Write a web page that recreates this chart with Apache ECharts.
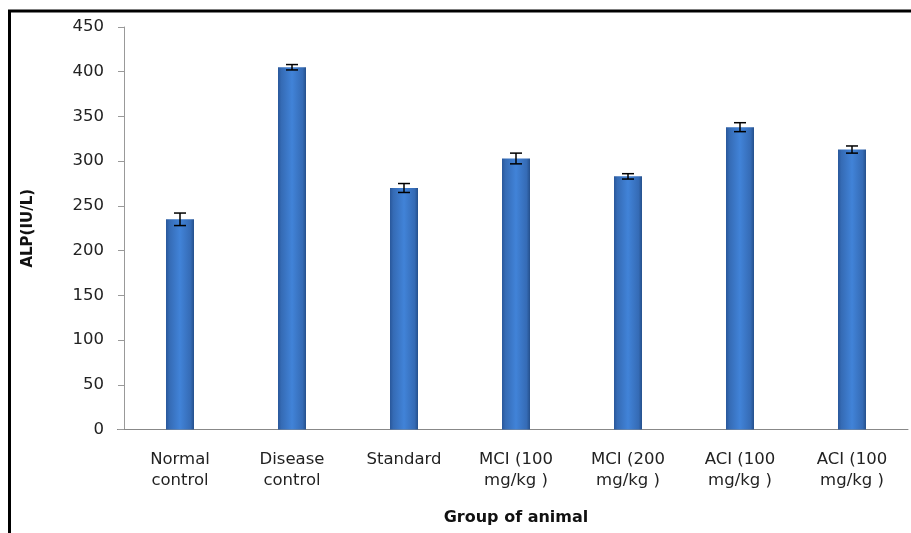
<!DOCTYPE html>
<html><head><meta charset="utf-8">
<script src="https://cdn.jsdelivr.net/npm/echarts@6/dist/echarts.min.js"></script>
<style>html,body{margin:0;padding:0;background:#fff}#c{width:911px;height:533px}</style>
</head><body><div id="c"></div>
<script>
var categories = ['Normal\ncontrol', 'Disease\ncontrol', 'Standard', 'MCI (100\nmg/kg )', 'MCI (200\nmg/kg )', 'ACI (100\nmg/kg )', 'ACI (100\nmg/kg )'];
var values = [235, 405, 270, 303, 283, 338, 313];
var errors = [7, 3, 5, 6, 3, 5, 4];
var yTicks = [0, 450, 50];

var chart = echarts.init(document.getElementById('c'));
var errData = values.map(function (v, i) { return [i, v - errors[i], v + errors[i]]; });
var font = 'DejaVu Sans';
chart.setOption({
  animation: false,
  grid: { left: 124, right: 3, top: 27, bottom: 103.5 },
  xAxis: {
    type: 'category', data: categories,
    axisLine: { lineStyle: { color: '#888', width: 1 } },
    axisTick: { show: false },
    axisLabel: { color: '#222', fontFamily: font, fontSize: 16.5, lineHeight: 21, margin: 20, interval: 0 },
    name: 'Group of animal', nameLocation: 'middle', nameGap: 80,
    nameTextStyle: { color: '#111', fontFamily: font, fontSize: 16, fontWeight: 'bold' }
  },
  yAxis: {
    type: 'value', min: yTicks[0], max: yTicks[1], interval: yTicks[2],
    axisLine: { show: true, lineStyle: { color: '#999' } },
    axisTick: { show: true, length: 6, lineStyle: { color: '#999' } },
    splitLine: { show: false },
    axisLabel: { color: '#222', fontFamily: font, fontSize: 16.5, margin: 20 },
    name: 'ALP(IU/L)', nameLocation: 'middle', nameGap: 88, nameRotate: 90,
    nameTextStyle: { color: '#111', fontFamily: font, fontSize: 15, fontWeight: 'bold' }
  },
  series: [{
    type: 'bar', data: values, barWidth: 28,
    itemStyle: {
      color: new echarts.graphic.LinearGradient(0, 0, 1, 0, [
        { offset: 0, color: '#29579a' },
        { offset: 0.12, color: '#356bb5' },
        { offset: 0.5, color: '#4183d8' },
        { offset: 0.88, color: '#356bb5' },
        { offset: 1, color: '#25508c' }
      ])
    }
  }, {
    type: 'custom', data: errData, z: 10,
    renderItem: function (params, api) {
      var x = api.value(0);
      var lo = api.coord([x, api.value(1)]);
      var hi = api.coord([x, api.value(2)]);
      var w = 6;
      var st = { stroke: '#000', lineWidth: 1.5 };
      return { type: 'group', children: [
        { type: 'line', shape: { x1: lo[0], y1: lo[1], x2: hi[0], y2: hi[1] }, style: st },
        { type: 'line', shape: { x1: lo[0] - w, y1: lo[1], x2: lo[0] + w, y2: lo[1] }, style: st },
        { type: 'line', shape: { x1: hi[0] - w, y1: hi[1], x2: hi[0] + w, y2: hi[1] }, style: st }
      ] };
    }
  }],
  graphic: [{
    type: 'rect', shape: { x: 9.5, y: 11, width: 1000, height: 1000 },
    style: { fill: null, stroke: '#000', lineWidth: 3 }, silent: true
  }, {
    type: 'line', shape: { x1: 117, y1: 429.5, x2: 124, y2: 429.5 },
    style: { stroke: '#888', lineWidth: 1 }
  }]
});
</script></body></html>
